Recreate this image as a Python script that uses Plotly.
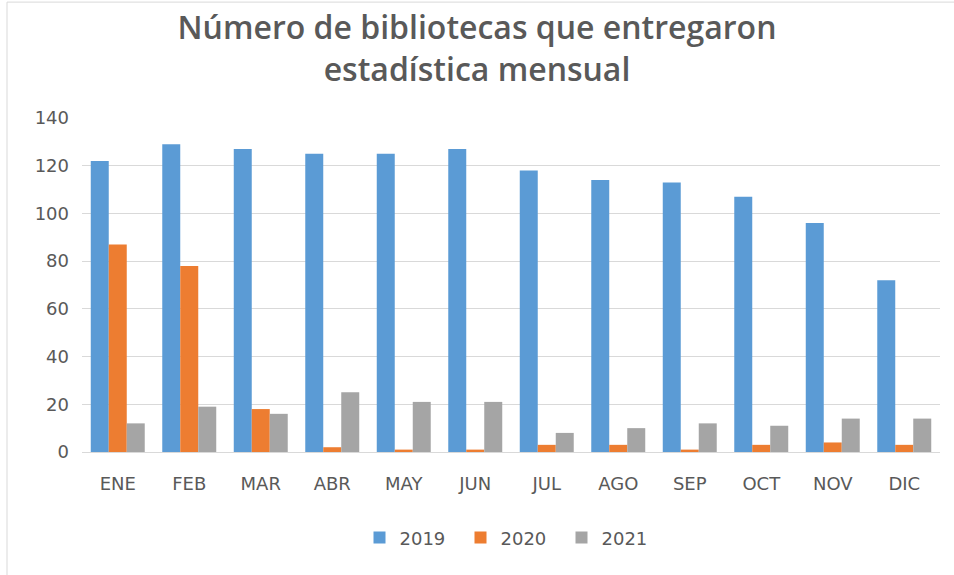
import plotly.graph_objects as go

months = ["ENE", "FEB", "MAR", "ABR", "MAY", "JUN", "JUL", "AGO", "SEP", "OCT", "NOV", "DIC"]
v2019 = [122, 129, 127, 125, 125, 127, 118, 114, 113, 107, 96, 72]
v2020 = [87, 78, 18, 2, 1, 1, 3, 3, 1, 3, 4, 3]
v2021 = [12, 19, 16, 25, 21, 21, 8, 10, 12, 11, 14, 14]
series_names = ["2019", "2020", "2021"]
colors = ["#5B9BD5", "#ED7D31", "#A5A5A5"]

fig = go.Figure()
for name, vals, col in zip(series_names, [v2019, v2020, v2021], colors):
    fig.add_trace(go.Bar(x=months, y=vals, name=name, marker=dict(color=col, line=dict(width=0))))

TXT = "#595959"
fig.update_layout(
    width=954, height=575,
    paper_bgcolor="white", plot_bgcolor="white",
    margin=dict(l=82, r=14, t=118, b=123),
    barmode="group", bargap=0.245, bargroupgap=0,
    title=dict(text="Número de bibliotecas que entregaron<br>estadística mensual",
               x=0.5, xanchor="center", y=0.932, yanchor="top",
               font=dict(family="Open Sans", size=32, color=TXT, weight=600)),
    font=dict(family="DejaVu Sans", size=18, color=TXT),
    xaxis=dict(showgrid=False, showline=True, linecolor="#D9D9D9", linewidth=1, ticks="",
               ticklabelstandoff=15, tickfont=dict(size=18, color=TXT)),
    yaxis=dict(range=[0, 140], dtick=20, showgrid=True, gridcolor="#D9D9D9", gridwidth=1,
               zeroline=False, showline=False, ticks="", ticklabelstandoff=12,
               tickfont=dict(size=18, color=TXT)),
    legend=dict(orientation="h", x=0.5, xanchor="center", y=-0.257, yanchor="middle",
                font=dict(size=18, color=TXT), traceorder="normal",
                entrywidth=56, entrywidthmode="pixels"),
    shapes=[dict(type="rect", xref="paper", yref="paper", x0=-0.0874, x1=1.2, y0=-0.6, y1=1.347,
                 line=dict(color="#D9D9D9", width=1))],
)

fig.write_html("out.html", config={"displayModeBar": False},
               post_script="document.body.style.margin='0px';")
